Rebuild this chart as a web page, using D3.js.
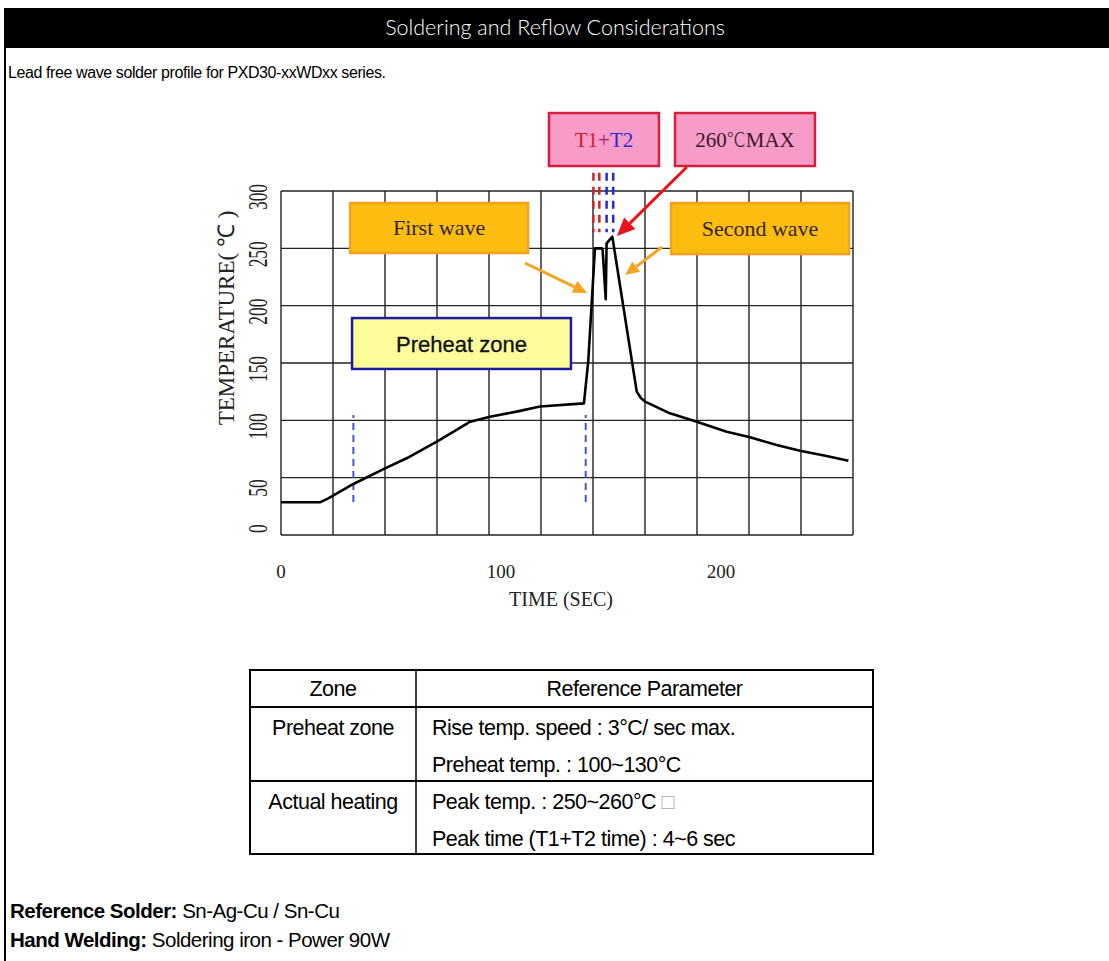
<!DOCTYPE html>
<html><head><meta charset="utf-8">
<script src="https://cdn.jsdelivr.net/npm/d3@7"></script>
<style>
body{margin:0;background:#fff;}
svg{display:block;}
</style></head><body>
<svg id="c" width="1109" height="961"></svg>
<script>
// ---------- data ----------
const timeSec = [0, 17.7, 21.5, 32.9, 47.3, 57.1, 70.8, 78.3, 86, 95, 107.1, 117.7, 137.7, 139.7, 142.7, 145.8, 146.2, 147.6, 148.0, 150.6, 161.7, 163.6, 165.5, 176.8, 189, 202.6, 213.2, 225.3, 235.9, 248, 257.9];
const tempC   = [28.5, 28.5, 32, 44.5, 58.1, 66.9, 81.4, 90, 98.8, 103.2, 107.6, 112, 114.8, 152.6, 250, 250, 248.5, 205.6, 254.4, 260.2, 125, 119.5, 116.3, 106.1, 98.8, 90.1, 85.2, 78.5, 73.5, 68.9, 64.8];
const xTickValues = [0, 100, 200];
const yTickValues = [0, 50, 100, 150, 200, 250, 300];
const preheatMarkTimes = [32.9, 138.5];
const preheatMarkRange = [28.8, 104.7];
const t1MarkTimes = [142.0, 144.7];
const t2MarkTimes = [148.0, 151.0];
const peakMarkRange = [264, 316];
const tableHeader = ["Zone", "Reference Parameter"];
const tableZones = ["Preheat zone", "Actual heating"];
const tableParams = [
  ["Rise temp. speed : 3°C/ sec max.", "Preheat temp. : 100~130°C"],
  ["Peak temp. : 250~260°C", "Peak time (T1+T2 time) : 4~6 sec"]
];
const notes = [
  ["Reference Solder:", " Sn-Ag-Cu / Sn-Cu"],
  ["Hand Welding:", " Soldering iron - Power 90W"]
];

// ---------- setup ----------
const svg = d3.select("#c");
const SANS = "'Liberation Sans', Arial, sans-serif";
const SERIF = "'Liberation Serif', 'Times New Roman', serif";

// header
svg.append("rect").attr("x", 4).attr("y", 8).attr("width", 1105).attr("height", 40).attr("fill", "#000");
svg.append("text").attr("x", 555).attr("y", 35).attr("text-anchor", "middle")
  .attr("fill", "#fff").attr("font-family", "'Lato', 'DejaVu Sans', sans-serif").attr("font-weight", 300)
  .attr("font-size", 21.5).text("Soldering and Reflow Considerations");
svg.append("line").attr("x1", 5).attr("x2", 5).attr("y1", 48).attr("y2", 961).attr("stroke", "#000").attr("stroke-width", 2);
svg.append("text").attr("x", 8).attr("y", 78).attr("font-family", SANS).attr("font-size", 16)
  .attr("letter-spacing", -0.4).attr("fill", "#000").text("Lead free wave solder profile for PXD30-xxWDxx series.");

// ---------- chart ----------
const X0 = 281, X1 = 853, Y0 = 535, Y1 = 191;
const x = d3.scaleLinear().domain([0, 260]).range([X0, X1]);
const y = d3.scaleLinear().domain([0, 300]).range([Y0, Y1]);

const grid = svg.append("g").attr("stroke", "#222").attr("stroke-width", 1.4);
d3.range(12).forEach(i => {
  const gx = X0 + i * (X1 - X0) / 11;
  grid.append("line").attr("x1", gx).attr("x2", gx).attr("y1", Y1).attr("y2", Y0);
});
yTickValues.forEach(v => {
  grid.append("line").attr("x1", X0).attr("x2", X1).attr("y1", y(v)).attr("y2", y(v));
});

// y tick labels (rotated, condensed serif)
yTickValues.forEach(v => {
  const by = Math.min(y(v) + 19, y(0) - 2);
  svg.append("text")
    .attr("transform", `translate(257,${by}) rotate(-90) scale(0.62,1)`)
    .attr("text-anchor", "start").attr("dominant-baseline", "central")
    .attr("font-family", SERIF).attr("font-size", 28).attr("fill", "#222").text(v);
});
svg.append("text").attr("transform", `translate(226,${(206 + 430) / 2}) rotate(-90)`)
  .attr("text-anchor", "middle").attr("dominant-baseline", "central")
  .attr("font-family", SERIF).attr("font-size", 23).attr("fill", "#222").text("TEMPERATURE( ℃ )");

// x tick labels
xTickValues.forEach(v => {
  svg.append("text").attr("x", x(v)).attr("y", 578).attr("text-anchor", "middle")
    .attr("font-family", SERIF).attr("font-size", 19).attr("fill", "#222").text(v);
});
svg.append("text").attr("x", 561).attr("y", 606).attr("text-anchor", "middle")
  .attr("font-family", SERIF).attr("font-size", 20).attr("fill", "#222").text("TIME (SEC)");

// dashed markers
preheatMarkTimes.forEach(t => {
  svg.append("line").attr("x1", x(t)).attr("x2", x(t)).attr("y1", y(preheatMarkRange[0])).attr("y2", y(preheatMarkRange[1]))
    .attr("stroke", "#3a5ad8").attr("stroke-width", 2).attr("stroke-dasharray", "7,5");
});
t1MarkTimes.forEach(t => {
  svg.append("line").attr("x1", x(t)).attr("x2", x(t)).attr("y1", y(peakMarkRange[1])).attr("y2", y(peakMarkRange[0]))
    .attr("stroke", "#d8202a").attr("stroke-width", 2.5).attr("stroke-dasharray", "8,6");
});
t2MarkTimes.forEach(t => {
  svg.append("line").attr("x1", x(t)).attr("x2", x(t)).attr("y1", y(peakMarkRange[1])).attr("y2", y(peakMarkRange[0]))
    .attr("stroke", "#1f2ad0").attr("stroke-width", 2.5).attr("stroke-dasharray", "8,6");
});

// profile curve
const pts = timeSec.map((t, i) => [t, tempC[i]]);
svg.append("path").datum(pts)
  .attr("d", d3.line().x(d => x(d[0])).y(d => y(d[1])))
  .attr("fill", "none").attr("stroke", "#000").attr("stroke-width", 2.6).attr("stroke-linejoin", "round");

// ---------- annotations (data units) ----------
function box(t0, t1, T0, T1, fill, stroke) {
  svg.append("rect").attr("x", x(t0)).attr("y", y(T1)).attr("width", x(t1) - x(t0)).attr("height", y(T0) - y(T1))
    .attr("fill", fill).attr("stroke", stroke).attr("stroke-width", 2.5);
  return [(x(t0) + x(t1)) / 2, (y(T0) + y(T1)) / 2];
}
function arrow(ta, Ta, tb, Tb, color, w, hl, hw) {
  const ax = x(ta), ay = y(Ta), bx = x(tb), by = y(Tb);
  const ang = Math.atan2(by - ay, bx - ax);
  const ux = Math.cos(ang), uy = Math.sin(ang);
  const baseX = bx - ux * hl, baseY = by - uy * hl;
  svg.append("line").attr("x1", ax).attr("y1", ay).attr("x2", baseX).attr("y2", baseY)
    .attr("stroke", color).attr("stroke-width", w);
  svg.append("polygon").attr("points", [
    [bx, by], [baseX - uy * hw / 2, baseY + ux * hw / 2], [baseX + uy * hw / 2, baseY - ux * hw / 2]
  ].map(p => p.join(",")).join(" ")).attr("fill", color);
}

const pinkFill = "#f79bc8", pinkStroke = "#d4203c";
const goldFill = "#fcbd10", goldStroke = "#f5a021";

let c = box(121.8, 171.8, 321.8, 368, pinkFill, pinkStroke);
const tt = svg.append("text").attr("x", c[0]).attr("y", c[1] + 7).attr("text-anchor", "middle")
  .attr("font-family", SERIF).attr("font-size", 21);
tt.append("tspan").attr("fill", "#d0202a").text("T1");
tt.append("tspan").attr("fill", "#9a2070").text("+");
tt.append("tspan").attr("fill", "#2a2ad0").text("T2");

c = box(179.1, 242.7, 321.8, 368, pinkFill, pinkStroke);
const mx = svg.append("text").attr("x", c[0]).attr("y", c[1] + 7).attr("text-anchor", "middle")
  .attr("font-family", SERIF).attr("font-size", 21).attr("fill", "#3a1828");
mx.append("tspan").text("260");
mx.append("tspan").attr("font-family", "'Noto Sans CJK SC', 'DejaVu Sans', sans-serif").attr("font-weight", 300).attr("font-size", 19).text("℃");
mx.append("tspan").text("MAX");

c = box(31.4, 112.3, 245.9, 289.5, goldFill, goldStroke);
svg.append("text").attr("x", c[0]).attr("y", c[1] + 7).attr("text-anchor", "middle")
  .attr("font-family", SERIF).attr("font-size", 22).attr("fill", "#33260e").text("First wave");

c = box(177.3, 258.2, 245.0, 289.5, goldFill, goldStroke);
svg.append("text").attr("x", c[0]).attr("y", c[1] + 7).attr("text-anchor", "middle")
  .attr("font-family", SERIF).attr("font-size", 22).attr("fill", "#33260e").text("Second wave");

c = box(32.3, 131.8, 144.8, 189.2, "#fdfd9c", "#1c1ca0");
svg.append("text").attr("x", c[0]).attr("y", c[1] + 8).attr("text-anchor", "middle")
  .attr("font-family", SANS).attr("font-size", 22).attr("fill", "#111")
  .attr("stroke", "#111").attr("stroke-width", 0.3).text("Preheat zone");

arrow(184.5, 320.9, 152.7, 260.8, "#e8141c", 3, 18, 16);
arrow(110.9, 237.2, 139.1, 211.0, "#f5a321", 3, 14, 13);
arrow(173.2, 251.2, 156.4, 226.7, "#f5a321", 3, 14, 13);

// ---------- table ----------
const TL = 250, TD = 416, TR = 873, TT = 670, TH = 707, TM = 781, TB = 854;
const tg = svg.append("g");
tg.append("rect").attr("x", TL).attr("y", TT).attr("width", TR - TL).attr("height", TB - TT)
  .attr("fill", "none").attr("stroke", "#000").attr("stroke-width", 2);
[TH, TM].forEach(yy => tg.append("line").attr("x1", TL).attr("x2", TR).attr("y1", yy).attr("y2", yy).attr("stroke", "#000").attr("stroke-width", 2));
tg.append("line").attr("x1", TD).attr("x2", TD).attr("y1", TT).attr("y2", TB).attr("stroke", "#000").attr("stroke-width", 1.5);
const tfs = 21.5;
const tstyle = s => s.attr("font-family", SANS).attr("font-size", tfs).attr("letter-spacing", -0.5).attr("fill", "#000");
tstyle(tg.append("text").attr("x", (TL + TD) / 2).attr("y", 696).attr("text-anchor", "middle").text(tableHeader[0]));
tstyle(tg.append("text").attr("x", (TD + TR) / 2).attr("y", 696).attr("text-anchor", "middle").text(tableHeader[1]));
const rowTops = [TH, TM];
tableZones.forEach((z, i) => {
  tstyle(tg.append("text").attr("x", (TL + TD) / 2).attr("y", rowTops[i] + 28).attr("text-anchor", "middle").text(z));
  tableParams[i].forEach((p, j) => {
    const t = tstyle(tg.append("text").attr("x", TD + 16).attr("y", rowTops[i] + 28 + j * 36.5));
    t.append("tspan").text(p);
    if (i === 1 && j === 0) t.append("tspan").attr("fill", "#aaa").text(" \u25A1");
  });
});

// ---------- notes ----------
notes.forEach((n, i) => {
  const t = svg.append("text").attr("x", 10).attr("y", 918 + i * 29).attr("font-family", SANS).attr("font-size", 20.5)
    .attr("letter-spacing", -0.5).attr("fill", "#000");
  t.append("tspan").attr("font-weight", "bold").text(n[0]);
  t.append("tspan").text(n[1]);
});
</script>
</body></html>
